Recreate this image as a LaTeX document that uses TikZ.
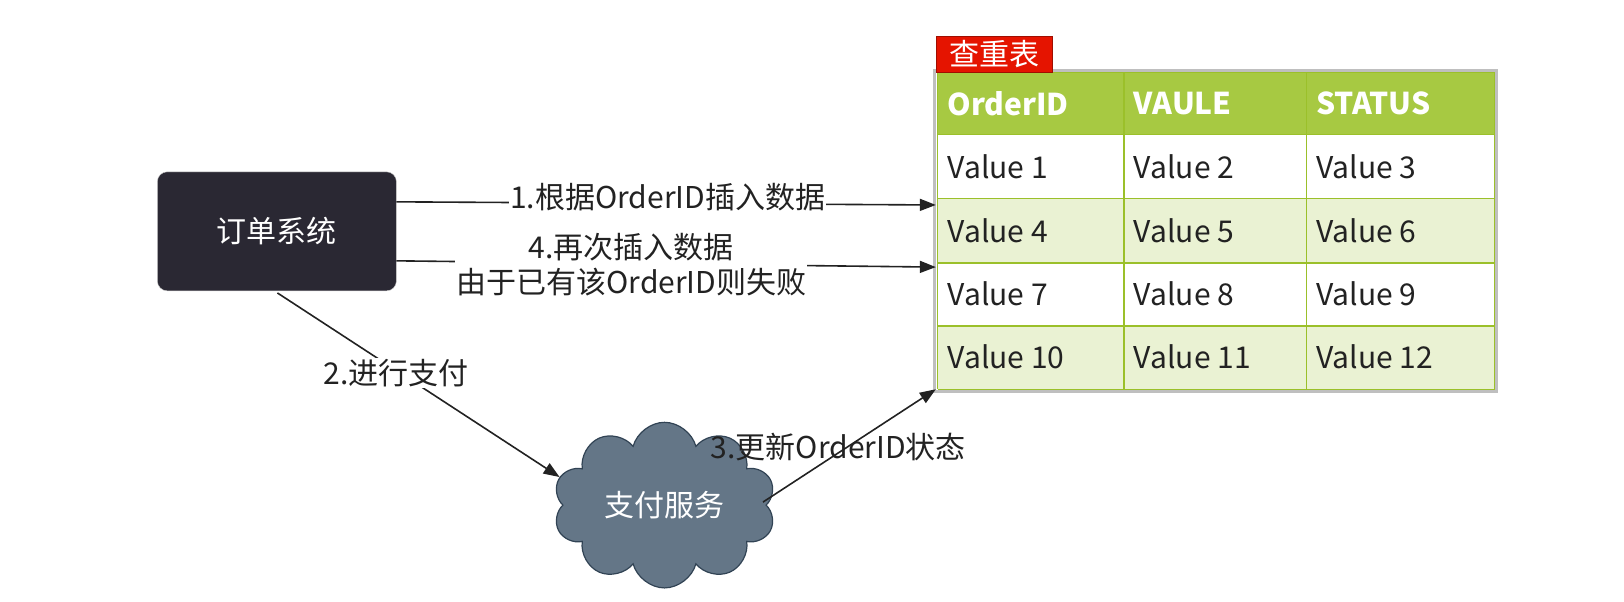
\documentclass[tikz,border=0pt]{standalone}
\usepackage{fontspec}
\setmainfont{Noto Sans CJK SC}
\usetikzlibrary{shapes.symbols}
\usetikzlibrary{arrows.meta}
\definecolor{darkbox}{HTML}{2A2833}
\definecolor{cloudfill}{HTML}{647687}
\definecolor{cloudline}{HTML}{314354}
\definecolor{headgreen}{HTML}{A7C942}
\definecolor{rowgreen}{HTML}{EAF2D3}
\definecolor{gridgreen}{HTML}{9BC02A}
\definecolor{tagred}{HTML}{E51400}
\definecolor{inktext}{HTML}{222222}

\tikzset{
  txt/.style={font=\fontsize{29}{34}\selectfont, text=inktext},
  conn/.style={line width=1.6pt, draw=inktext},
  tip/.style={conn, -{Triangle[length=16pt,width=12pt]}},
  lbl/.style={txt, fill=white, inner sep=1pt, align=center},
  cell/.style={txt, anchor=west}
}

\begin{document}
\begin{tikzpicture}[x=1pt,y=-1pt,scale=1.035,transform shape]
							% order system box
							\node[draw=gray!40, fill=darkbox, rounded corners=10pt, minimum width=231pt,
								minimum height=115pt, txt, text=white] (order) at (267.5,223.5) {订单系统};

							% payment cloud
							\node[cloud, cloud puffs=10, aspect=1.4, draw=cloudline, line width=1.2pt, fill=cloudfill,
								minimum width=215pt, minimum height=160pt, txt, text=white] (pay) at (642,488) {支付服务};

							% dedup table
							\fill[white] (903,68) rectangle (1446,378);
							\draw[gray!50, line width=2.5pt] (903,68) rectangle (1446,378);
							\fill[headgreen] (906,70) rectangle (1444,130);
							\fill[rowgreen] (906,192) rectangle (1444,254);
							\fill[rowgreen] (906,315) rectangle (1444,376);
							\foreach \yy in {70,130,192,254,315,376}
								\draw[gridgreen, line width=1.3pt] (906,\yy) -- (1444,\yy);
							\foreach \xx in {906,1086,1262,1444}
								\draw[gridgreen, line width=1.3pt] (\xx,70) -- (\xx,376);
							\node[cell, text=white, font=\bfseries\fontsize{29}{34}\selectfont] (h1) at (912,100) {OrderID};
							\node[cell, text=white, font=\bfseries\fontsize{29}{34}\selectfont] (h2) at (1092,100) {VAULE};
							\node[cell, text=white, font=\bfseries\fontsize{29}{34}\selectfont] (h3) at (1268,100) {STATUS};
							\foreach \r/\yy in {0/161,1/223,2/284,3/345}
								\foreach \c/\xx in {1/912,2/1092,3/1268}
								{
									\pgfmathtruncatemacro{\num}{3*\r+\c}
									\node[cell] (v\num) at (\xx,\yy) {Value \num};
								}
							\coordinate (t1) at (904,198);
							\coordinate (t4) at (904,258);
							\coordinate (t3) at (904,376);

							% table tag
							\node[draw=tagred!70!black, fill=tagred, minimum width=113pt, minimum height=35pt,
								inner sep=0pt, txt, text=white] (tag) at (960.5,52.5) {查重表};

							% connectors
							\draw[tip] (383,195) -- (t1);
							\node[lbl] (l1) at (645,190) {1.根据OrderID插入数据};
							\draw[tip] (383,252) -- (t4);
							\node[lbl, font=\fontsize{29}{34}\selectfont] (l4) at (610,256) {4.再次插入数据\\由于已有该OrderID则失败};
							\draw[tip] (268,283) -- (pay.165);
							\node[lbl] (l2) at (383,360) {2.进行支付};
							\draw[tip] (pay.east) ++(-4,-3) -- (t3);
							\node[lbl, fill=none] (l3) at (810,432) {3.更新OrderID状态};

							\pgfresetboundingbox
							\useasboundingbox (0,0) rectangle (1569,581.6);
						\end{tikzpicture}
\end{document}
